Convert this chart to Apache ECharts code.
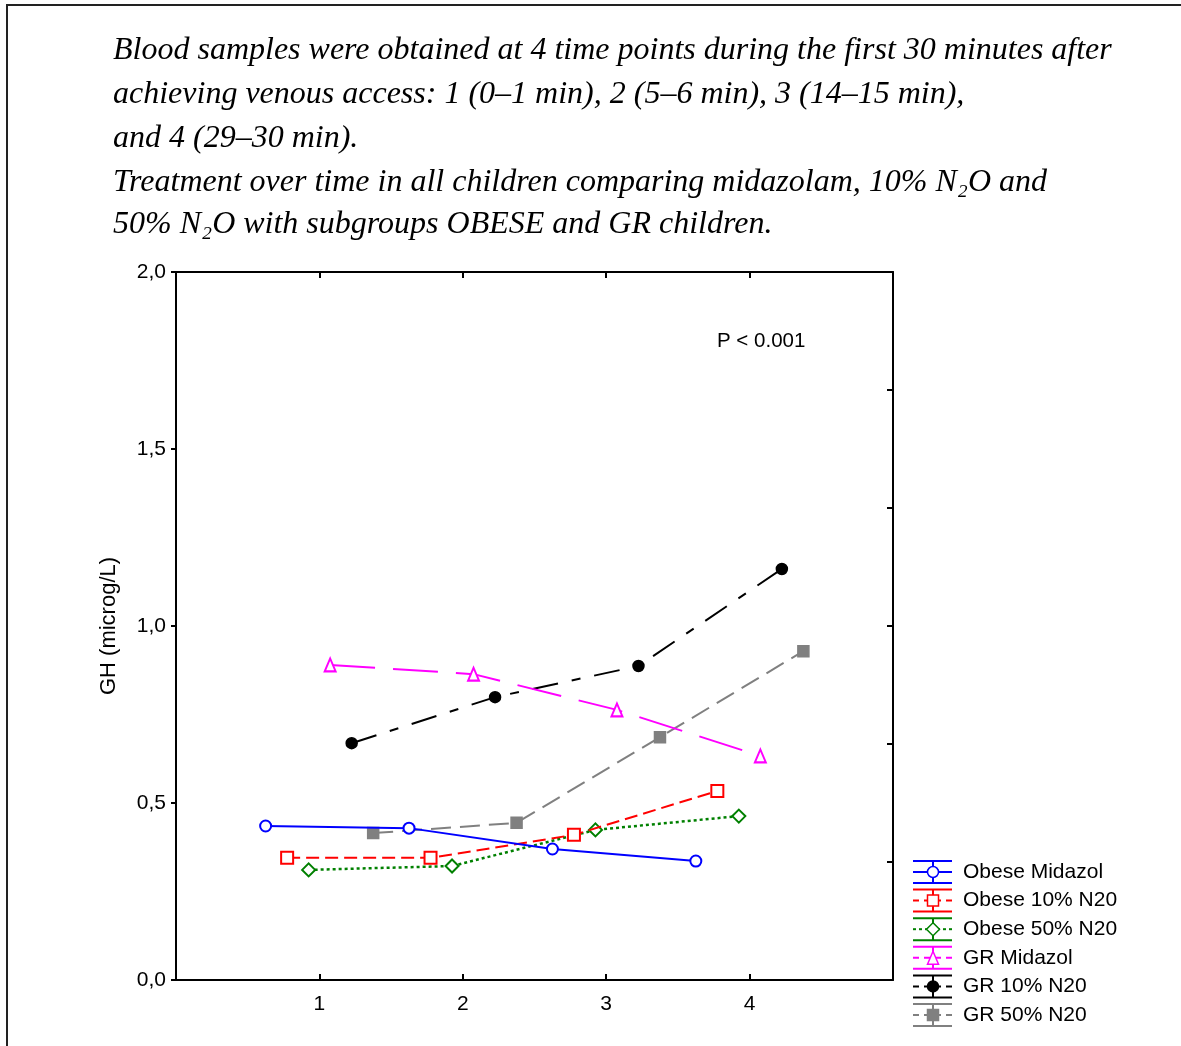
<!DOCTYPE html>
<html>
<head>
<meta charset="utf-8">
<script src="https://cdn.jsdelivr.net/npm/echarts@6/dist/echarts.min.js"></script>
<style>
  html, body { margin: 0; padding: 0; background: #fff; }
  #chart { width: 1181px; height: 1046px; }
</style>
</head>
<body>
<div id="chart"></div>
<script>
// Sampling time points (x axis)
const timePoints = [1, 2, 3, 4];

// Mean GH (microg/L) per group at each time point
const obeseMidazol = [0.435, 0.429, 0.370, 0.336];
const obese10 = [0.345, 0.345, 0.410, 0.534];
const obese50 = [0.311, 0.322, 0.424, 0.463];
const grMidazol = [0.890, 0.864, 0.763, 0.633];
const gr10 = [0.669, 0.799, 0.887, 1.161];
const gr50 = [0.415, 0.444, 0.686, 0.929];

const seriesNames = ['Obese Midazol', 'Obese 10% N20', 'Obese 50% N20', 'GR Midazol', 'GR 10% N20', 'GR 50% N20'];
const seriesValues = [obeseMidazol, obese10, obese50, grMidazol, gr10, gr50];

const titleLines = [
  'Blood samples were obtained at 4 time points during the first 30 minutes after',
  'achieving venous access: 1 (0\u20131 min), 2 (5\u20136 min), 3 (14\u201315 min),',
  'and 4 (29\u201330 min).',
  'Treatment over time in all children comparing midazolam, 10% N\u2082O and',
  '50% N\u2082O with subgroups OBESE and GR children.'
];
const pValueText = 'P < 0.001';
const yAxisTitle = 'GH (microg/L)';

// Appearance of each group
const styles = [
  { color: '#0000ff', dash: 'solid', symbol: 'circle', filled: false, size: 11 },
  { color: '#ff0000', dash: [13, 6], symbol: 'rect', filled: false, size: 12 },
  { color: '#008000', dash: [3, 3], symbol: 'diamond', filled: false, size: 13 },
  { color: '#ff00ff', dash: [45, 18], symbol: 'triangle', filled: false, size: [11, 13] },
  { color: '#000000', dash: [26, 14, 9, 14], symbol: 'circle', filled: true, size: 11 },
  { color: '#808080', dash: [20, 9], symbol: 'rect', filled: true, size: 11 }
];

// Horizontal dodge so the six groups sit side by side around each time point
const dodgeStep = 0.15;
function dodge(i) { return (i - (seriesNames.length - 1) / 2) * dodgeStep; }

const chart = echarts.init(document.getElementById('chart'), null, { renderer: 'canvas' });

const series = seriesNames.map((name, i) => {
  const st = styles[i];
  return {
    name: name,
    type: 'line',
    xAxisIndex: 0,
    yAxisIndex: 0,
    data: seriesValues[i].map((v, k) => [timePoints[k] + dodge(i), v]),
    symbol: st.filled ? st.symbol : 'empty' + st.symbol.charAt(0).toUpperCase() + st.symbol.slice(1),
    symbolSize: st.size,
    showSymbol: true,
    lineStyle: { color: st.color, width: i === 2 ? 2.5 : 2, type: st.dash },
    itemStyle: { color: st.color, borderColor: st.color, borderWidth: 1.5 },
    z: 10 - i,
    animation: false
  };
});

const axisLineStyle = { color: '#000', width: 2 };
const tickStyle = { color: '#000', width: 2 };
const sansFont = '"Liberation Sans", Arial, sans-serif';

// Legend drawn as error-bar style keys
const legendX0 = 913, legendX1 = 952, legendCx = 933, legendTextX = 963;
const legendY0 = 872, legendStep = 28.6;
const legendGraphics = [];
seriesNames.forEach((name, i) => {
  const st = styles[i];
  const cy = legendY0 + i * legendStep;
  const stroke = { stroke: st.color, lineWidth: 2 };
  legendGraphics.push(
    { type: 'line', shape: { x1: legendX0, y1: cy - 11, x2: legendX1, y2: cy - 11 }, style: stroke, silent: true },
    { type: 'line', shape: { x1: legendX0, y1: cy + 11, x2: legendX1, y2: cy + 11 }, style: stroke, silent: true },
    { type: 'line', shape: { x1: legendCx, y1: cy - 11, x2: legendCx, y2: cy + 11 }, style: stroke, silent: true },
    { type: 'line', shape: { x1: legendX0, y1: cy, x2: legendX1, y2: cy },
      style: { stroke: st.color, lineWidth: 2, lineDash: st.dash === 'solid' ? null : (i === 2 ? [3, 3] : [6, 5]) }, silent: true }
  );
  const fill = st.filled ? st.color : '#fff';
  const mstyle = { fill: fill, stroke: st.color, lineWidth: 1.5 };
  if (st.symbol === 'circle') {
    legendGraphics.push({ type: 'circle', shape: { cx: legendCx, cy: cy, r: 5.5 }, style: mstyle, silent: true });
  } else if (st.symbol === 'rect') {
    legendGraphics.push({ type: 'rect', shape: { x: legendCx - 5.5, y: cy - 5.5, width: 11, height: 11 }, style: mstyle, silent: true });
  } else if (st.symbol === 'diamond') {
    legendGraphics.push({ type: 'polygon', shape: { points: [[legendCx, cy - 6.5], [legendCx + 6.5, cy], [legendCx, cy + 6.5], [legendCx - 6.5, cy]] }, style: mstyle, silent: true });
  } else if (st.symbol === 'triangle') {
    legendGraphics.push({ type: 'polygon', shape: { points: [[legendCx, cy - 6.5], [legendCx + 5.5, cy + 6.5], [legendCx - 5.5, cy + 6.5]] }, style: mstyle, silent: true });
  }
  legendGraphics.push({
    type: 'text', x: legendTextX, y: cy,
    style: { text: name, font: '21px ' + sansFont, fill: '#000', verticalAlign: 'middle', align: 'left' },
    silent: true
  });
});

const titleGraphics = titleLines.map((line, i) => ({
  type: 'text', x: 113, y: [51, 95, 139, 183, 225][i],
  style: { text: line, font: 'italic 32px "Liberation Serif", "Times New Roman", serif', fill: '#000', verticalAlign: 'middle', align: 'left' },
  silent: true
}));

const option = {
  animation: false,
  backgroundColor: '#fff',
  grid: { left: 176, top: 272, width: 717, height: 708, containLabel: false },
  xAxis: [
    {
      type: 'value', position: 'bottom', min: 0, max: 5, interval: 1,
      axisLine: { show: true, onZero: false, lineStyle: axisLineStyle },
      axisTick: { show: true, inside: true, length: 6, lineStyle: tickStyle },
      axisLabel: { formatter: v => (v >= 1 && v <= 4) ? String(v) : '', fontSize: 21, color: '#000', margin: 14, fontFamily: sansFont },
      splitLine: { show: false }
    },
    {
      type: 'value', position: 'top', min: 0, max: 5, interval: 1,
      axisLine: { show: true, onZero: false, lineStyle: axisLineStyle },
      axisTick: { show: true, inside: true, length: 6, lineStyle: tickStyle },
      axisLabel: { show: false },
      splitLine: { show: false }
    }
  ],
  yAxis: [
    {
      type: 'value', position: 'left', min: 0, max: 2, interval: 0.5,
      axisLine: { show: true, onZero: false, lineStyle: axisLineStyle },
      axisTick: { show: true, inside: false, length: 5, lineStyle: tickStyle },
      axisLabel: { formatter: v => v.toFixed(1).replace('.', ','), fontSize: 21, color: '#000', margin: 10, fontFamily: sansFont },
      splitLine: { show: false },
      name: yAxisTitle, nameLocation: 'middle', nameRotate: 90, nameGap: 56,
      nameTextStyle: { fontSize: 22, color: '#000', fontFamily: sansFont }
    },
    {
      type: 'value', position: 'right', min: 0, max: 2, interval: 1 / 3,
      axisLine: { show: true, onZero: false, lineStyle: axisLineStyle },
      axisTick: { show: true, inside: true, length: 6, lineStyle: tickStyle },
      axisLabel: { show: false },
      splitLine: { show: false }
    }
  ],
  series: series,
  graphic: [
    // outer frame
    { type: 'rect', shape: { x: 7, y: 5, width: 1200, height: 1100 }, style: { fill: null, stroke: '#222', lineWidth: 2 }, silent: true },
    ...titleGraphics,
    { type: 'text', x: 717, y: 341, style: { text: pValueText, font: '20.5px ' + sansFont, fill: '#000', verticalAlign: 'middle', align: 'left' }, silent: true },
    ...legendGraphics
  ]
};

chart.setOption(option);
</script>
</body>
</html>
